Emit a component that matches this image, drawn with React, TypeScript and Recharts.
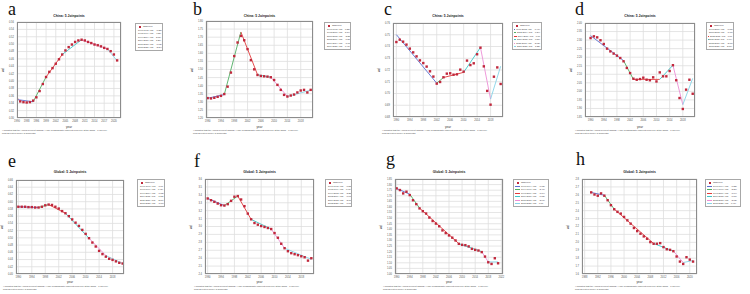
import React from "react";
import { LineChart, Line, XAxis, YAxis, CartesianGrid } from "recharts";

// ---- shared -----------------------------------------------------------
const YEARS = [
  1990, 1991, 1992, 1993, 1994, 1995, 1996, 1997, 1998, 1999, 2000, 2001, 2002, 2003, 2004, 2005,
  2006, 2007, 2008, 2009, 2010, 2011, 2012, 2013, 2014, 2015, 2016, 2017, 2018, 2019, 2020, 2021,
];

const SEG_COLORS = ["#5a6fd0", "#4fae62", "#e23a3a", "#3cc6c8", "#ec8fd6", "#86d3e6"];
const OBS_COLOR = "#c0283c";
const SANS = "'Liberation Sans', Arial, sans-serif";

// ---- a: China ---------------------------------------------------------
const OBS_A = [
  0.351, 0.345, 0.343, 0.342, 0.343, 0.347, 0.356, 0.373, 0.392, 0.411, 0.425, 0.435, 0.447, 0.459,
  0.472, 0.483, 0.492, 0.499, 0.506, 0.51, 0.512, 0.51, 0.506, 0.503, 0.499, 0.497, 0.494, 0.49,
  0.487, 0.481, 0.472, 0.456,
];
const JP_YEARS_A = [1990, 1995, 1999, 2004, 2010, 2018, 2021];
const JP_FIT_A = [0.35, 0.344, 0.411, 0.472, 0.512, 0.487, 0.455];
const Y_TICKS_A = [0.3, 0.32, 0.34, 0.36, 0.38, 0.4, 0.42, 0.44, 0.46, 0.48, 0.5, 0.52, 0.54, 0.56];
const X_TICKS_A = [1990, 1993, 1996, 1999, 2002, 2005, 2008, 2011, 2014, 2017, 2020];

// ---- b: China ---------------------------------------------------------
const OBS_B = [
  1.323, 1.321, 1.325, 1.331, 1.337, 1.348, 1.394, 1.481, 1.583, 1.667, 1.708, 1.681, 1.626, 1.558,
  1.501, 1.466, 1.46, 1.458, 1.456, 1.452, 1.435, 1.405, 1.374, 1.343, 1.333, 1.339, 1.345, 1.358,
  1.37, 1.374, 1.358, 1.374,
];
const JP_YEARS_B = [1990, 1995, 2000, 2005, 2009, 2014, 2021];
const JP_FIT_B = [1.322, 1.345, 1.732, 1.468, 1.452, 1.333, 1.372];
const Y_TICKS_B = [1.2, 1.25, 1.3, 1.35, 1.4, 1.45, 1.5, 1.55, 1.6, 1.65, 1.7, 1.75, 1.8];
const X_TICKS_B = [1990, 1994, 1998, 2002, 2006, 2010, 2014, 2018];

// ---- c: China ---------------------------------------------------------
const OBS_C = [
  0.7438, 0.7458, 0.7441, 0.7416, 0.7382, 0.735, 0.7316, 0.7282, 0.7259, 0.7229, 0.7189, 0.7144,
  0.7084, 0.7098, 0.7138, 0.7169, 0.7172, 0.716, 0.7163, 0.7203, 0.7186, 0.728, 0.7242, 0.7257,
  0.7334, 0.739, 0.7231, 0.7022, 0.6905, 0.7143, 0.7222, 0.7081,
];
const JP_YEARS_C = [1990, 2002, 2004, 2010, 2015, 2018, 2021];
const JP_FIT_C = [0.7501, 0.7088, 0.7136, 0.718, 0.7392, 0.6952, 0.7232];
const Y_TICKS_C = [0.68, 0.69, 0.7, 0.71, 0.72, 0.73, 0.74, 0.75, 0.76];
const X_TICKS_C = [1990, 1994, 1998, 2002, 2006, 2010, 2014, 2018];

// ---- d: China ---------------------------------------------------------
const OBS_D = [
  2.312, 2.322, 2.316, 2.299, 2.277, 2.25, 2.234, 2.221, 2.209, 2.195, 2.176, 2.137, 2.107, 2.074,
  2.068, 2.072, 2.08, 2.068, 2.065, 2.082, 2.058, 2.111, 2.088, 2.088, 2.119, 2.153, 2.065, 1.961,
  1.897, 2.01, 2.068, 1.986,
];
const JP_YEARS_D = [1990, 2000, 2003, 2011, 2015, 2018, 2021];
const JP_FIT_D = [2.326, 2.18, 2.07, 2.07, 2.153, 1.922, 2.076];
const Y_TICKS_D = [1.85, 1.9, 1.95, 2.0, 2.05, 2.1, 2.15, 2.2, 2.25, 2.3, 2.35, 2.4];
const X_TICKS_D = [1990, 1994, 1998, 2002, 2006, 2010, 2014, 2018];

// ---- e: Global --------------------------------------------------------
const OBS_E = [
  0.586, 0.586, 0.586, 0.585, 0.585, 0.584, 0.584, 0.586, 0.59, 0.592, 0.591, 0.586, 0.581, 0.574,
  0.568, 0.56, 0.551, 0.542, 0.533, 0.522, 0.511, 0.499, 0.487, 0.476, 0.464, 0.455, 0.448, 0.442,
  0.439, 0.435, 0.431, 0.429,
];
const JP_YEARS_E = [1990, 1996, 1999, 2004, 2011, 2016, 2021];
const JP_FIT_E = [0.586, 0.584, 0.592, 0.568, 0.499, 0.451, 0.429];
const Y_TICKS_E = [0.4, 0.42, 0.44, 0.46, 0.48, 0.5, 0.52, 0.54, 0.56, 0.58, 0.6, 0.62, 0.64, 0.66];
const X_TICKS_E = [1990, 1994, 1998, 2002, 2006, 2010, 2014, 2018];

// ---- f: Global --------------------------------------------------------
const OBS_F = [
  3.354, 3.332, 3.312, 3.29, 3.269, 3.265, 3.282, 3.324, 3.376, 3.384, 3.341, 3.257, 3.163, 3.091,
  3.044, 3.023, 3.006, 2.994, 2.981, 2.968, 2.917, 2.858, 2.782, 2.726, 2.688, 2.663, 2.65, 2.638,
  2.624, 2.612, 2.569, 2.599,
];
const JP_YEARS_F = [1990, 1995, 1999, 2003, 2009, 2013, 2021];
const JP_FIT_F = [3.355, 3.264, 3.385, 3.09, 2.968, 2.726, 2.585];
const Y_TICKS_F = [2.4, 2.5, 2.6, 2.7, 2.8, 2.9, 3.0, 3.1, 3.2, 3.3, 3.4, 3.5, 3.6];
const X_TICKS_F = [1990, 1994, 1998, 2002, 2006, 2010, 2014, 2018];

// ---- g: Global --------------------------------------------------------
const OBS_G = [
  1.766, 1.751, 1.721, 1.736, 1.706, 1.66, 1.625, 1.587, 1.562, 1.541, 1.505, 1.474, 1.451, 1.427,
  1.39, 1.366, 1.345, 1.325, 1.3, 1.27, 1.261, 1.258, 1.247, 1.225, 1.216, 1.21, 1.196, 1.156, 1.105,
  1.09, 1.141, 1.096,
];
const JP_YEARS_G = [1990, 1994, 1997, 2009, 2016, 2018, 2021];
const JP_FIT_G = [1.765, 1.714, 1.59, 1.272, 1.2, 1.108, 1.108];
const Y_TICKS_G = [
  1.0, 1.05, 1.1, 1.15, 1.2, 1.25, 1.3, 1.35, 1.4, 1.45, 1.5, 1.55, 1.6, 1.65, 1.7, 1.75, 1.8, 1.85,
];
const X_TICKS_G = [1990, 1994, 1998, 2002, 2006, 2010, 2014, 2018, 2022];

// ---- h: Global --------------------------------------------------------
const OBS_H = [
  2.631, 2.604, 2.589, 2.618, 2.589, 2.532, 2.469, 2.418, 2.385, 2.363, 2.321, 2.278, 2.236, 2.181,
  2.142, 2.109, 2.075, 2.045, 2.003, 1.982, 1.982, 1.99, 1.94, 1.913, 1.905, 1.888, 1.821, 1.757,
  1.727, 1.812, 1.782, 1.757,
];
const JP_YEARS_H = [1990, 1994, 1997, 2009, 2015, 2018, 2021];
const JP_FIT_H = [2.63, 2.595, 2.42, 1.985, 1.89, 1.745, 1.77];
const Y_TICKS_H = [1.6, 1.7, 1.8, 1.9, 2.0, 2.1, 2.2, 2.3, 2.4, 2.5, 2.6, 2.7, 2.8];
const X_TICKS_H = [1988, 1992, 1996, 2000, 2004, 2008, 2012, 2016, 2020];

type PanelSpec = {
  letter: string;
  title: string;
  obs: number[];
  jpYears: number[];
  jpFit: number[];
  yTicks: number[];
  xTicks: number[];
  xDomain: [number, number];
  dec: number;
  plot: [number, number, number, number];
  legend: [number, number, number, number];
  letterPos: [number, number];
  footX: number;
  row: 0 | 1;
};

const PANELS: PanelSpec[] = [
  { letter: "a", title: "China: 5 Joinpoints", obs: OBS_A, jpYears: JP_YEARS_A, jpFit: JP_FIT_A, yTicks: Y_TICKS_A, xTicks: X_TICKS_A, xDomain: [1990, 2022.2], dec: 2, plot: [17, 22, 121, 118], legend: [135, 23, 28, 28], letterPos: [8, 15], footX: 2, row: 0 },
  { letter: "b", title: "China: 5 Joinpoints", obs: OBS_B, jpYears: JP_YEARS_B, jpFit: JP_FIT_B, yTicks: Y_TICKS_B, xTicks: X_TICKS_B, xDomain: [1989.5, 2021.7], dec: 2, plot: [206, 21, 313, 118], legend: [324, 22, 27, 28], letterPos: [193, 15], footX: 193, row: 0 },
  { letter: "c", title: "China: 5 Joinpoints", obs: OBS_C, jpYears: JP_YEARS_C, jpFit: JP_FIT_C, yTicks: Y_TICKS_C, xTicks: X_TICKS_C, xDomain: [1989, 2021.7], dec: 2, plot: [393, 23, 503, 117], legend: [512, 22, 30, 28], letterPos: [384, 15], footX: 382, row: 0 },
  { letter: "d", title: "China: 5 Joinpoints", obs: OBS_D, jpYears: JP_YEARS_D, jpFit: JP_FIT_D, yTicks: Y_TICKS_D, xTicks: X_TICKS_D, xDomain: [1988.3, 2021.7], dec: 2, plot: [585, 23, 695, 117], legend: [706, 22, 28, 28], letterPos: [575, 15], footX: 575, row: 0 },
  { letter: "e", title: "Global: 5 Joinpoints", obs: OBS_E, jpYears: JP_YEARS_E, jpFit: JP_FIT_E, yTicks: Y_TICKS_E, xTicks: X_TICKS_E, xDomain: [1989.3, 2021.4], dec: 2, plot: [16, 180, 124, 274], legend: [137, 179, 28, 28], letterPos: [8, 167], footX: 3, row: 1 },
  { letter: "f", title: "Global: 5 Joinpoints", obs: OBS_F, jpYears: JP_YEARS_F, jpFit: JP_FIT_F, yTicks: Y_TICKS_F, xTicks: X_TICKS_F, xDomain: [1989.2, 2021.8], dec: 1, plot: [205, 179, 314, 274], legend: [325, 179, 27, 28], letterPos: [194, 167], footX: 194, row: 1 },
  { letter: "g", title: "Global: 5 Joinpoints", obs: OBS_G, jpYears: JP_YEARS_G, jpFit: JP_FIT_G, yTicks: Y_TICKS_G, xTicks: X_TICKS_G, xDomain: [1989.5, 2022.5], dec: 2, plot: [395, 179, 503, 274], legend: [513, 179, 36, 28], letterPos: [386, 165], footX: 383, row: 1 },
  { letter: "h", title: "Global: 5 Joinpoints", obs: OBS_H, jpYears: JP_YEARS_H, jpFit: JP_FIT_H, yTicks: Y_TICKS_H, xTicks: X_TICKS_H, xDomain: [1987.2, 2022.2], dec: 1, plot: [582, 179, 697, 274], legend: [705, 179, 36, 28], letterPos: [576, 165], footX: 575, row: 1 },
];

function apcLabel(y1: number, y2: number, v1: number, v2: number) {
  const apc = (Math.pow(v2 / v1, 1 / (y2 - y1)) - 1) * 100;
  return `${y1}-${y2} APC = ${apc.toFixed(2)}${Math.abs(apc) >= 0.3 ? "*" : ""}`;
}

const SquareDot = (props: any) => {
  const { cx, cy, index } = props;
  if (cx == null || cy == null) return <g key={`o${index}`} />;
  return <rect key={`o${index}`} x={cx - 1.2} y={cy - 1.2} width={2.4} height={2.4} fill={OBS_COLOR} />;
};

const TICK_STYLE = { fontSize: 2.6, fill: "#555", fontFamily: "Liberation Sans" };

function Panel({ p }: { p: PanelSpec }) {
  const [x0, y0, x1, y1] = p.plot;
  const W = x1 - x0 + 22;
  const H = y1 - y0 + 10;

  const rows: Record<string, number>[] = YEARS.map((year, i) => ({ year, obs: p.obs[i] }));
  for (let k = 0; k < p.jpYears.length - 1; k++) {
    const a = YEARS.indexOf(p.jpYears[k]);
    const b = YEARS.indexOf(p.jpYears[k + 1]);
    rows[a][`s${k}`] = p.jpFit[k];
    rows[b][`s${k}`] = p.jpFit[k + 1];
  }
  const segs = p.jpYears.slice(0, -1).map((yr, k) => ({
    key: `s${k}`,
    color: SEG_COLORS[k],
    label: apcLabel(yr, p.jpYears[k + 1], p.jpFit[k], p.jpFit[k + 1]),
  }));

  const titleY = p.row === 0 ? 14 : 170;
  const yearY = p.row === 0 ? 125 : 280;
  const footY = p.row === 0 ? 129 : 285;
  const [lx, ly, lw, lh] = p.legend;

  return (
    <>
      <div style={{ position: "absolute", left: p.letterPos[0], top: p.letterPos[1] - 15, fontFamily: "'Liberation Serif', serif", fontSize: 18, lineHeight: "18px", color: "#111" }}>
        {p.letter}
      </div>
      <div style={{ position: "absolute", left: (x0 + x1) / 2 - 40, width: 80, top: titleY, textAlign: "center", fontFamily: SANS, fontSize: 3.4, fontWeight: 700, lineHeight: "4px", color: "#222" }}>
        {p.title}
      </div>
      <div style={{ position: "absolute", left: x0 - 20, top: y0 - 2 }}>
        <LineChart width={W} height={H} data={rows} margin={{ top: 2, right: 2, left: 0, bottom: 0 }}>
          <CartesianGrid stroke="#dedede" strokeWidth={0.8} />
          <XAxis
            dataKey="year"
            type="number"
            domain={p.xDomain}
            allowDataOverflow
            ticks={p.xTicks}
            interval={0}
            height={8}
            tickLine={false}
            axisLine={false}
            tickSize={0}
            tickMargin={2}
            tick={TICK_STYLE}
          />
          <YAxis
            type="number"
            domain={[p.yTicks[0], p.yTicks[p.yTicks.length - 1]]}
            allowDataOverflow
            ticks={p.yTicks}
            interval={0}
            width={20}
            tickLine={false}
            axisLine={false}
            tickSize={0}
            tickMargin={3}
            tickFormatter={(v: number) => v.toFixed(p.dec)}
            tick={TICK_STYLE}
          />
          {segs.map((s) => (
            <Line key={s.key} dataKey={s.key} stroke={s.color} strokeWidth={0.9} dot={false} connectNulls isAnimationActive={false} />
          ))}
          <Line dataKey="obs" stroke="none" dot={SquareDot} activeDot={false} isAnimationActive={false} />
        </LineChart>
      </div>
      <div style={{ position: "absolute", left: x0, top: y0, width: x1 - x0, height: y1 - y0, border: "1px solid #8c8c8c", boxSizing: "border-box", pointerEvents: "none" }} />
      <div style={{ position: "absolute", left: (x0 + x1) / 2 - 10, width: 20, top: yearY, textAlign: "center", fontFamily: SANS, fontSize: 3, lineHeight: "4px", color: "#333" }}>
        year
      </div>
      <div style={{ position: "absolute", left: x0 - 16, top: (y0 + y1) / 2 - 2, fontFamily: SANS, fontSize: 3, lineHeight: "4px", color: "#333", transform: "rotate(-90deg)" }}>
        val
      </div>
      <div style={{ position: "absolute", left: lx, top: ly, width: lw, height: lh, border: "1px solid #a8a8a8", background: "#fff", boxSizing: "border-box", padding: "1px 1px", fontFamily: SANS, fontSize: 2.2, lineHeight: "3.5px", color: "#333", whiteSpace: "nowrap", overflow: "hidden" }}>
        <div style={{ display: "flex", alignItems: "center" }}>
          <span style={{ width: 6, display: "inline-flex", justifyContent: "center" }}>
            <span style={{ width: 2, height: 2, background: OBS_COLOR }} />
          </span>
          Observed
        </div>
        {segs.map((s) => (
          <div key={s.key} style={{ display: "flex", alignItems: "center" }}>
            <span style={{ width: 5, height: 1, marginRight: 1, background: s.color }} />
            {s.label}
          </div>
        ))}
      </div>
      <div style={{ position: "absolute", left: p.footX, top: footY, fontFamily: SANS, fontSize: 2.2, lineHeight: "3px", color: "#444", whiteSpace: "nowrap" }}>
        <div>* Indicates that the Annual Percent Change (APC) is significantly different from zero at the alpha = 0.05 level.</div>
        <div>Final Selected Model: 5 Joinpoints.</div>
      </div>
    </>
  );
}

export default function App() {
  return (
    <div style={{ position: "absolute", left: 0, top: 0, width: 750, height: 294, background: "#fff", overflow: "hidden" }}>
      {PANELS.map((p) => (
        <Panel key={p.letter} p={p} />
      ))}
    </div>
  );
}
